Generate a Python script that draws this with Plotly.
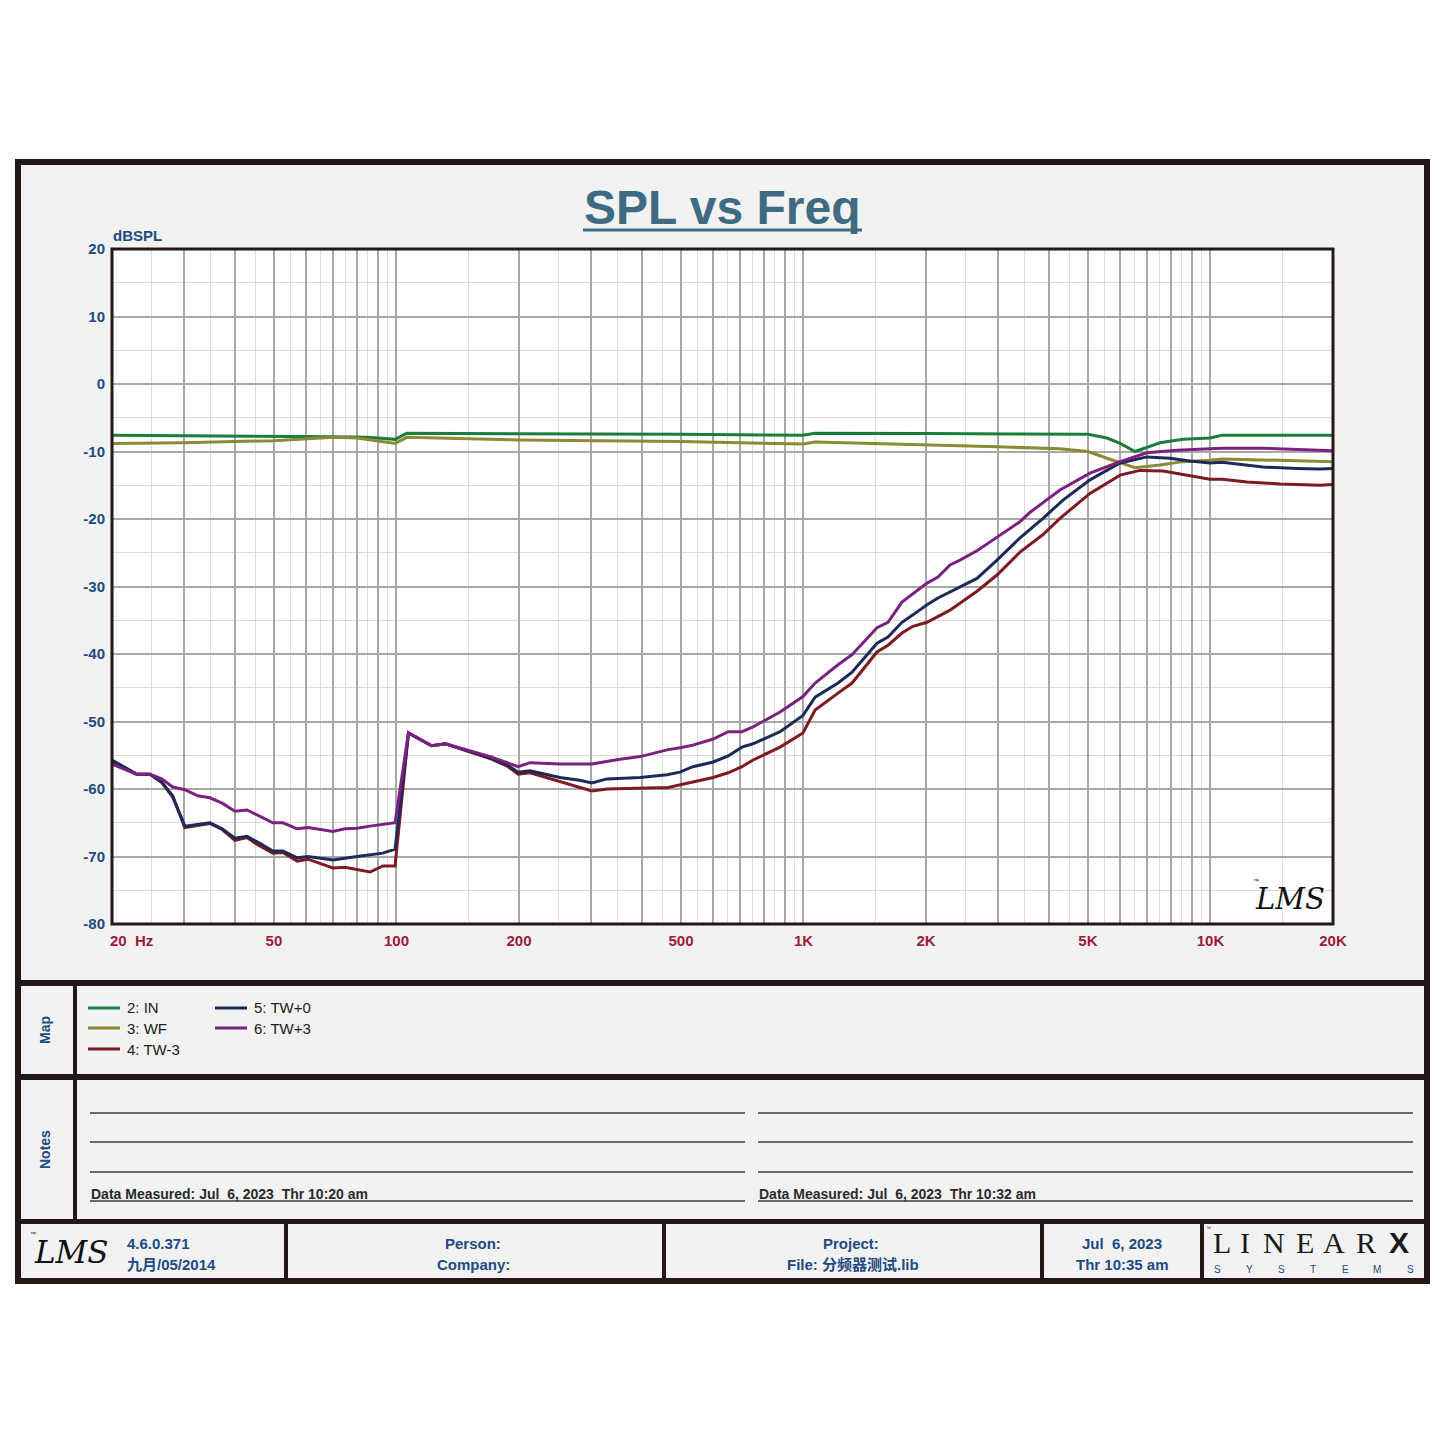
import plotly.graph_objects as go

# ---------------- data ----------------
series_names = ["2: IN", "3: WF", "4: TW-3", "5: TW+0", "6: TW+3"]
series_colors = ["#1b7d3d", "#8c8a34", "#7d1a22", "#1d2a58", "#7b2281"]

in_freq = [20, 30, 50, 70, 85, 95, 99.2, 106, 200, 500, 997, 1068, 2000, 4268, 5000, 5568, 6000, 6527, 7515, 8559, 9972, 10676, 20000]
in_db = [-7.6, -7.65, -7.7, -7.8, -7.9, -8.1, -8.2, -7.3, -7.35, -7.45, -7.6, -7.3, -7.35, -7.4, -7.45, -8.0, -8.8, -10.0, -8.7, -8.2, -8.0, -7.6, -7.6]

wf_freq = [20, 30, 50, 70, 80, 92, 99.2, 106, 200, 500, 997, 1068, 2000, 3000, 4268, 5000, 5568, 6000, 6527, 7515, 8559, 9972, 10676, 20000]
wf_db = [-8.8, -8.7, -8.4, -7.9, -8.0, -8.5, -8.8, -7.9, -8.3, -8.5, -8.9, -8.6, -9.0, -9.3, -9.6, -10.0, -11.0, -11.7, -12.4, -12.0, -11.5, -11.3, -11.1, -11.5]

tw3_freq = [20, 23.0, 24.8, 26.5, 28.2, 30.2, 34.8, 37.3, 40.1, 42.9, 45.7, 49.7, 52.6, 57.0, 60.6, 69.8, 74.7, 80.0, 86.1, 92.6, 99.2,
            107, 122, 132, 170, 187, 199, 213, 252, 282, 302, 329, 397, 437, 462, 497, 535, 600, 653, 706, 752, 876, 997,
            1068, 1216, 1316, 1516, 1613, 1746, 1858, 2012, 2140, 2291, 2669, 2989, 3404, 3878, 4268, 5058, 5996, 6711, 7644,
            8904, 9972, 10676, 12296, 14820, 18584, 20000]
tw3_db = [-56.0, -57.8, -57.8, -59.0, -61.0, -65.7, -65.1, -66.0, -67.6, -67.2, -68.3, -69.5, -69.4, -70.7, -70.4, -71.7, -71.6, -71.9, -72.3, -71.4, -71.4,
          -51.7, -53.6, -53.3, -55.5, -56.6, -57.8, -57.6, -58.9, -59.7, -60.3, -60.0, -59.8, -59.8, -59.8, -59.4, -58.9, -58.3, -57.6, -56.7, -55.7, -53.8, -51.7,
          -48.3, -45.8, -44.3, -39.7, -38.7, -36.9, -35.9, -35.3, -34.5, -33.5, -30.7, -28.3, -24.9, -22.3, -19.9, -16.2, -13.5, -12.8, -12.9,
          -13.6, -14.1, -14.1, -14.5, -14.8, -15.0, -14.9]

tw0_freq = [20, 23.0, 24.8, 26.5, 28.2, 30.2, 34.8, 37.3, 40.1, 42.9, 45.7, 49.7, 52.6, 57.0, 60.6, 69.8, 80.0, 86.1, 92.6, 99.2,
            107, 122, 132, 170, 187, 199, 213, 252, 282, 302, 329, 397, 462, 497, 535, 600, 653, 706, 752, 876, 997,
            1068, 1216, 1316, 1516, 1613, 1746, 1858, 2012, 2140, 2291, 2669, 2989, 3404, 3878, 4342, 5058, 5996, 6982, 7952,
            8904, 9972, 10676, 13459, 16313, 18584, 20000]
tw0_db = [-55.7, -57.8, -57.8, -59.0, -61.2, -65.5, -65.0, -65.9, -67.3, -67.0, -67.9, -69.2, -69.2, -70.2, -70.0, -70.5, -70.0, -69.8, -69.5, -68.9,
          -51.7, -53.6, -53.3, -55.4, -56.4, -57.5, -57.3, -58.3, -58.7, -59.1, -58.5, -58.3, -57.9, -57.5, -56.7, -56.0, -55.1, -53.8, -53.3, -51.5, -49.1,
          -46.4, -44.3, -42.7, -38.4, -37.5, -35.3, -34.2, -32.7, -31.7, -30.8, -28.8, -26.1, -22.8, -19.9, -17.2, -14.2, -11.7, -10.8, -11.0,
          -11.4, -11.7, -11.6, -12.3, -12.5, -12.6, -12.5]

tw3p_freq = [20, 23.0, 24.8, 26.5, 28.2, 30.2, 32.5, 34.8, 37.3, 40.1, 42.9, 45.7, 49.7, 52.6, 57.0, 60.6, 69.8, 74.7, 80.0, 86.1, 92.6, 99.2,
             107, 122, 132, 170, 187, 199, 213, 252, 302, 329, 354, 397, 437, 462, 497, 535, 600, 653, 706, 752, 876, 997,
             1068, 1216, 1316, 1516, 1613, 1746, 2012, 2140, 2291, 2424, 2669, 3404, 3604, 4268, 5058, 5996, 6982, 8274, 9972,
             10676, 13459, 20000]
tw3p_db = [-56.3, -57.8, -57.8, -58.5, -59.7, -60.1, -61.0, -61.3, -62.1, -63.3, -63.1, -63.9, -65.0, -65.0, -65.9, -65.7, -66.3, -65.9, -65.8, -65.5, -65.2, -65.0,
           -51.7, -53.6, -53.3, -55.2, -56.1, -56.7, -56.1, -56.3, -56.3, -55.9, -55.6, -55.2, -54.6, -54.2, -53.9, -53.5, -52.6, -51.5, -51.5, -50.8, -48.6, -46.3,
           -44.3, -41.6, -40.1, -36.1, -35.3, -32.3, -29.5, -28.6, -26.8, -26.1, -24.7, -20.4, -19.0, -15.7, -13.2, -11.5, -10.2, -9.8, -9.6,
           -9.5, -9.5, -9.9]

x_major = [20, 30, 40, 50, 60, 70, 80, 90, 100, 200, 300, 400, 500, 600, 700, 800, 900,
           1000, 2000, 3000, 4000, 5000, 6000, 7000, 8000, 9000, 10000, 20000]
x_labels = {50: "50", 100: "100", 200: "200", 500: "500", 1000: "1K",
            2000: "2K", 5000: "5K", 10000: "10K", 20000: "20K"}
x_first_label = "20  Hz"
x_minor = [25, 35, 45, 55, 65, 75, 85, 95, 150, 250, 350, 450, 550, 650, 750, 850, 950,
           1500, 2500, 3500, 4500, 5500, 6500, 7500, 8500, 9500, 15000]
y_major = [-80, -70, -60, -50, -40, -30, -20, -10, 0, 10, 20]
y_minor = [-75, -65, -55, -45, -35, -25, -15, -5, 5, 15]

# ---------------- geometry helpers ----------------
W = H = 1445
L, R, T, B = 112, 1333, 249, 924


def X(px):
    return (px - L) / (R - L)


def Y(py):
    return (B - py) / (B - T)


DARK = "#231815"
BLUE = "#1d4a82"
CRIMSON = "#9b1c40"
FONT = "Liberation Sans, Arial, sans-serif"

fig = go.Figure()
all_freq = [in_freq, wf_freq, tw3_freq, tw0_freq, tw3p_freq]
all_db = [in_db, wf_db, tw3_db, tw0_db, tw3p_db]
for name, col, fx, dy in zip(series_names, series_colors, all_freq, all_db):
    fig.add_trace(go.Scatter(x=fx, y=dy, mode="lines", name=name,
                             line=dict(color=col, width=3), showlegend=False))

shapes = []
annotations = []


def rect(x0, y0, x1, y1, fill, layer="below", line=None):
    d = dict(type="rect", xref="paper", yref="paper", x0=X(x0), x1=X(x1), y0=Y(y0), y1=Y(y1),
             fillcolor=fill, layer=layer, line=dict(width=0))
    if line:
        d["line"] = line
    shapes.append(d)


def hline(x0, x1, y, color, width, layer="above"):
    shapes.append(dict(type="line", xref="paper", yref="paper", x0=X(x0), x1=X(x1), y0=Y(y), y1=Y(y),
                       line=dict(color=color, width=width), layer=layer))


def text(t, px, py, size, color, bold=False, xanchor="center", yanchor="middle", family=FONT, angle=0):
    annotations.append(dict(text=t, x=X(px), y=Y(py), xref="paper", yref="paper", showarrow=False,
                            xanchor=xanchor, yanchor=yanchor, textangle=angle, borderpad=0,
                            font=dict(size=size, color=color, family=family,
                                      weight="bold" if bold else "normal")))


# panel background and frame
rect(18, 162, 1427, 1281, "#f2f2f2")
rect(L, T, R, B, "#ffffff")
for (a, b, c, d) in [(15, 159, 1430, 165), (15, 1278, 1430, 1284), (15, 159, 21, 1284), (1424, 159, 1430, 1284),
                     (15, 980, 1430, 986), (15, 1074, 1430, 1080), (15, 1219, 1430, 1224),
                     (73, 980, 77, 1222),
                     (284, 1222, 288, 1280), (662, 1222, 666, 1280), (1040, 1222, 1044, 1280), (1200, 1222, 1204, 1280)]:
    rect(a, b, c, d, DARK, layer="above")
shapes.append(dict(type="rect", xref="paper", yref="paper", x0=0, x1=1, y0=0, y1=1,
                   line=dict(color=DARK, width=3), layer="above"))

# title
text("SPL vs Freq", 722, 207, 48, "#3e6a82", bold=True)
hline(583, 862, 230, "#3e6a82", 3)
text("dBSPL", 112, 236, 15, BLUE, bold=True, xanchor="left")
text(x_first_label, 131, 940, 15, CRIMSON, bold=True)

# LMS logo inside plot
text("<i>LMS</i>", 1290, 899, 29, "#111111", family="DejaVu Serif, serif")
text("™", 1256, 881, 6, "#111111")

# legend (Map)
legend_pos = [(88, 1008), (88, 1028), (88, 1049), (215, 1008), (215, 1028)]
for name, col, (lx, ly) in zip(series_names, series_colors, legend_pos):
    hline(lx, lx + 32, ly, col, 3)
    text(name, lx + 38, ly, 15, "#1a1a1a", xanchor="left")
text("Map", 45, 1030, 14, BLUE, bold=True, angle=-90)
text("Notes", 45, 1150, 14, BLUE, bold=True, angle=-90)

# notes lines
for yy in [1113, 1142, 1172, 1201]:
    hline(90, 745, yy, "#3a3a3a", 1.3)
    hline(758, 1413, yy, "#3a3a3a", 1.3)
text("Data Measured: Jul  6, 2023  Thr 10:20 am", 90, 1203, 14, "#2a2a2a", bold=True, xanchor="left", yanchor="bottom")
text("Data Measured: Jul  6, 2023  Thr 10:32 am", 758, 1203, 14, "#2a2a2a", bold=True, xanchor="left", yanchor="bottom")

# footer
text("<i>LMS</i>", 71, 1252, 31, "#111111", family="DejaVu Serif, serif")
text("™", 33, 1234, 6, "#111111")
text("4.6.0.371", 126, 1243, 15, BLUE, bold=True, xanchor="left")
text("九月/05/2014", 126, 1264, 15, BLUE, bold=True, xanchor="left", family="Liberation Sans, Noto Sans CJK SC, sans-serif")
text("Person:", 473, 1243, 15, BLUE, bold=True)
text("Company:", 473, 1264, 15, BLUE, bold=True)
text("Project:", 851, 1243, 15, BLUE, bold=True)
text("File: 分频器测试.lib", 853, 1264, 15, BLUE, bold=True, family="Liberation Sans, Noto Sans CJK SC, sans-serif")
text("Jul  6, 2023", 1122, 1243, 15, BLUE, bold=True)
text("Thr 10:35 am", 1122, 1264, 15, BLUE, bold=True)

# LinearX logo
for ch, cx in zip("LINEAR", [1222, 1245, 1274, 1305, 1334, 1366]):
    text(ch, cx, 1242, 30, "#1a1a1a", family="Liberation Serif, serif")
text("X", 1399, 1242, 30, "#1a1a1a", bold=True, family="Liberation Sans, sans-serif")
text("™", 1208, 1228, 5, "#1a1a1a")
for ch, cx in zip("SYSTEMS", [1217, 1249, 1281, 1313, 1345, 1377, 1410]):
    text(ch, cx, 1269, 10, "#1d4a82", family="Liberation Sans, sans-serif")

fig.update_layout(
    width=W, height=H, autosize=False,
    margin=dict(l=L, r=W - R, t=T, b=H - B, pad=0),
    paper_bgcolor="#ffffff", plot_bgcolor="#ffffff",
    shapes=shapes, annotations=annotations, showlegend=False,
    font=dict(family=FONT),
)
fig.update_xaxes(
    type="log", range=[1.30103, 4.30103],
    tickmode="array", tickvals=x_major, ticktext=[x_labels.get(v, "") for v in x_major],
    tickfont=dict(size=15, color=CRIMSON, family=FONT, weight="bold"),
    ticklabelstandoff=6,
    showgrid=True, gridcolor="#a8a8a8", gridwidth=1.6, zeroline=False, ticks="",
    minor=dict(tickvals=x_minor, showgrid=True, gridcolor="#dcdcdc", gridwidth=1.2, ticks=""),
    showline=False,
)
fig.update_yaxes(
    range=[-80, 20], tickmode="array", tickvals=y_major, ticktext=[str(v) for v in y_major],
    tickfont=dict(size=15, color=BLUE, family=FONT, weight="bold"),
    ticklabelstandoff=6,
    showgrid=True, gridcolor="#a8a8a8", gridwidth=1.6, zeroline=False, ticks="",
    minor=dict(tickvals=y_minor, showgrid=True, gridcolor="#dcdcdc", gridwidth=1.2, ticks=""),
    showline=False,
)

fig.write_html("out.html", config={"displayModeBar": False},
               post_script="document.body.style.margin='0';")
